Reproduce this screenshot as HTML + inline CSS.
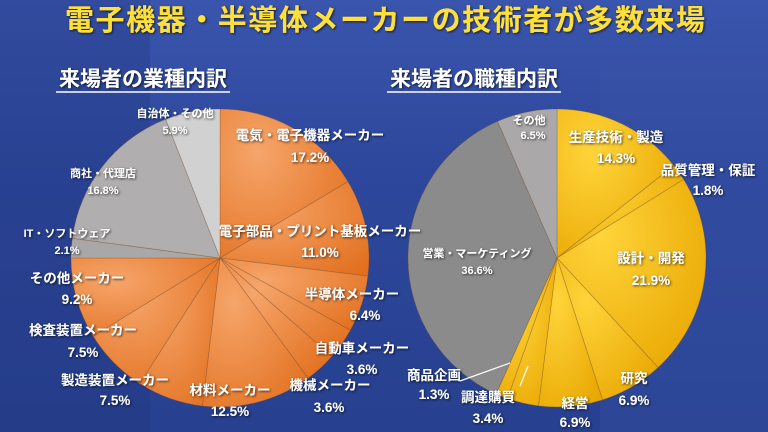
<!DOCTYPE html>
<html><head><meta charset="utf-8"><style>
html,body{margin:0;padding:0;width:768px;height:432px;overflow:hidden;}
body{background:linear-gradient(180deg,#3a55ad 0%,#2d479c 40%,#27408f 100%);font-family:"Liberation Sans","Noto Sans CJK JP",sans-serif;}
svg text{font-family:"Liberation Sans","Noto Sans CJK JP",sans-serif;font-weight:bold;fill:#fff;text-anchor:middle;}
</style></head><body>
<svg width="768" height="432" viewBox="0 0 768 432" xmlns="http://www.w3.org/2000/svg">
<defs>
<filter id="sh" x="-20%" y="-20%" width="140%" height="140%"><feDropShadow dx="1" dy="1" stdDeviation="1.2" flood-color="#000" flood-opacity="0.7"/></filter>
<radialGradient id="og" cx="0.3" cy="0.3" r="0.9"><stop offset="0" stop-color="#f6a56a"/><stop offset="1" stop-color="#e2701f"/></radialGradient>
<radialGradient id="yg" cx="0.3" cy="0.3" r="0.9"><stop offset="0" stop-color="#ffd43a"/><stop offset="1" stop-color="#e8a600"/></radialGradient>
</defs>
<rect x="0" y="0" width="150" height="432" fill="#22357a" opacity="0.3"/>
<rect x="600" y="60" width="168" height="372" fill="#3a56a8" opacity="0.3"/>
<g id="p1"></g><g id="p2"></g>
<text x="385" y="30" font-size="29" style="fill:#ffe03a" textLength="640" filter="url(#sh)">電子機器・半導体メーカーの技術者が多数来場</text>
<text x="143" y="86" font-size="21" filter="url(#sh)">来場者の業種内訳</text>
<line x1="56" y1="92" x2="230" y2="92" stroke="#fff" stroke-width="1.5"/>
<text x="474" y="86" font-size="21" filter="url(#sh)">来場者の職種内訳</text>
<line x1="387" y1="92" x2="561" y2="92" stroke="#fff" stroke-width="1.5"/>
<g filter="url(#sh)">
<g font-size="11">
<text x="175" y="117">自治体・その他</text><text x="175" y="134">5.9%</text>
<text x="103" y="177">商社・代理店</text><text x="103" y="194">16.8%</text>
<text x="67" y="237">IT・ソフトウェア</text><text x="67" y="254">2.1%</text>
<text x="529" y="124">その他</text><text x="533" y="139">6.5%</text>
<text x="477" y="257">営業・マーケティング</text><text x="477" y="274">36.6%</text>
</g>
<g font-size="13.5">
<text x="310" y="140">電気・電子機器メーカー</text><text x="310" y="162">17.2%</text>
<text x="320" y="236">電子部品・プリント基板メーカー</text><text x="320" y="257">11.0%</text>
<text x="352" y="299">半導体メーカー</text><text x="365" y="320">6.4%</text>
<text x="362" y="353">自動車メーカー</text><text x="362" y="374">3.6%</text>
<text x="330" y="390">機械メーカー</text><text x="329" y="412">3.6%</text>
<text x="230" y="395">材料メーカー</text><text x="230" y="416">12.5%</text>
<text x="115" y="385">製造装置メーカー</text><text x="115" y="405">7.5%</text>
<text x="83" y="335">検査装置メーカー</text><text x="83" y="357">7.5%</text>
<text x="77" y="283">その他メーカー</text><text x="77" y="304">9.2%</text>
<text x="616" y="142">生産技術・製造</text><text x="616" y="163">14.3%</text>
<text x="708" y="175">品質管理・保証</text><text x="708" y="195">1.8%</text>
<text x="651" y="263">設計・開発</text><text x="651" y="285">21.9%</text>
<text x="634" y="383">研究</text><text x="634" y="405">6.9%</text>
<text x="575" y="408">経営</text><text x="575" y="427">6.9%</text>
<text x="488" y="402">調達購買</text><text x="488" y="423">3.4%</text>
<text x="434" y="380">商品企画</text><text x="434" y="399">1.3%</text>
</g>
</g>
<line x1="460" y1="381" x2="510" y2="363" stroke="#fff" stroke-width="1.2"/>
<line x1="520" y1="386" x2="528" y2="366" stroke="#fff" stroke-width="1.2"/>
</svg>
<script>
function pie(id,cx,cy,r,data){
  var g=document.getElementById(id);
  var a=-Math.PI/2,s='';
  data.forEach(function(d){
    var b=a+d[0]*2*Math.PI;
    var x1=cx+r*Math.cos(a),y1=cy+r*Math.sin(a),x2=cx+r*Math.cos(b),y2=cy+r*Math.sin(b);
    var l=(b-a)>Math.PI?1:0;
    s+='<path d="M'+cx+','+cy+' L'+x1+','+y1+' A'+r+','+r+' 0 '+l+' 1 '+x2+','+y2+' Z" fill="'+d[1]+'" stroke="rgba(120,80,40,0.35)" stroke-width="0.8"/>';
    a=b;
  });
  g.innerHTML=s;
}
function grp(arr,frac,col){var t=0;arr.forEach(function(v){t+=v;});return arr.map(function(v,i){return [v/t*frac,Array.isArray(col)?col[i]:col];});}
var O='url(#og)',Y='url(#yg)';
pie('p1',220,258,149,grp([17.2,11,6.4,3.6,3.6,12.5,7.5,7.5,9.2],0.75,O).concat(grp([2.1,16.8,5.9],0.25,['#a9a7a7','#b0aeae','#d2d1d1'])));
pie('p2',557,258,149,grp([14.3,1.8,21.9,6.9,6.9,3.4,1.3],0.567,Y).concat(grp([36.6,6.5],0.433,['#8c8b8b','#aaa8a8'])));
</script>
</body></html>
